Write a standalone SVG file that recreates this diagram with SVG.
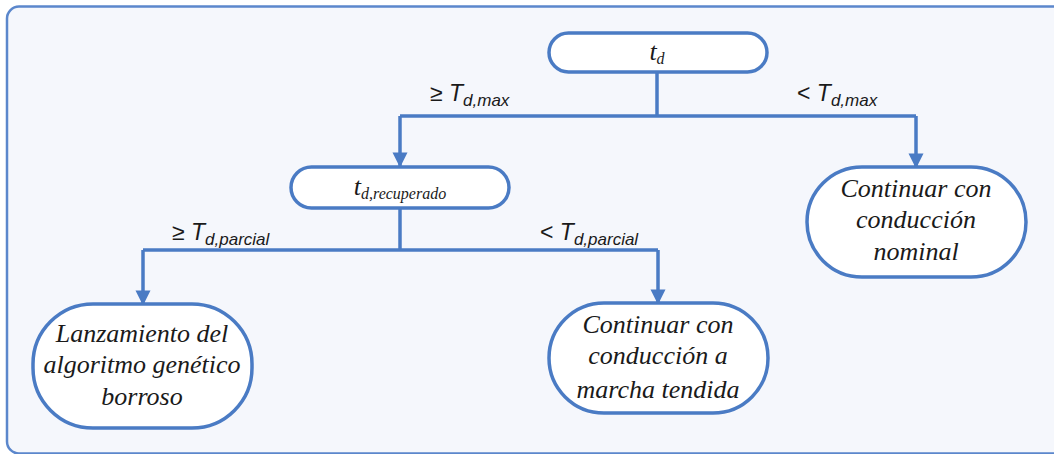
<svg xmlns="http://www.w3.org/2000/svg" width="1054" height="454" viewBox="0 0 1054 454">
<defs>
<style>
.node{fill:#ffffff;stroke:#4a7bc4;stroke-width:3.5}
.conn{fill:none;stroke:#4a7bc4;stroke-width:3.5}
.nt{font-family:"Liberation Serif","Times New Roman",serif;font-style:italic;font-size:26px;fill:#1a1a1a;text-anchor:middle}
.lb{font-family:"Liberation Sans",Arial,sans-serif;font-size:23px;fill:#1a1a1a}
.ti{font-style:italic}
</style>
<marker id="ah" viewBox="0 0 10 10" refX="9" refY="5" markerWidth="4.3" markerHeight="4.3" orient="auto" markerUnits="strokeWidth">
<path d="M0,0 L10,5 L0,10 z" fill="#4a7bc4"/>
</marker>
</defs>
<rect x="7" y="6.5" width="1070" height="447" rx="12" fill="#f5f7fc" stroke="#5b87cc" stroke-width="2.5"/>
<g id="connectors">
<path class="conn" d="M657,72 V116"/>
<path class="conn" d="M400,116 H916"/>
<path class="conn" d="M400,116 V166" marker-end="url(#ah)"/>
<path class="conn" d="M916,116 V167" marker-end="url(#ah)"/>
<path class="conn" d="M400,208 V250"/>
<path class="conn" d="M143,250 H658"/>
<path class="conn" d="M143,250 V304" marker-end="url(#ah)"/>
<path class="conn" d="M658,250 V303" marker-end="url(#ah)"/>
</g>
<g id="labels">
<text class="lb" x="430" y="101">≥ <tspan class="ti">T</tspan><tspan class="ti" font-size="17" dy="5">d,max</tspan></text>
<text class="lb" x="797" y="101">&lt; <tspan class="ti">T</tspan><tspan class="ti" font-size="17" dy="5">d,max</tspan></text>
<text class="lb" x="172" y="240">≥ <tspan class="ti">T</tspan><tspan class="ti" font-size="17" dy="5">d,parcial</tspan></text>
<text class="lb" x="540" y="240">&lt; <tspan class="ti">T</tspan><tspan class="ti" font-size="17" dy="5">d,parcial</tspan></text>
</g>
<g id="n_td">
<rect class="node" x="549" y="33" width="218" height="39" rx="19.5"/>
<text class="nt" x="657" y="60" font-size="24">t<tspan font-size="16" dy="4">d</tspan></text>
</g>
<g id="n_trec">
<rect class="node" x="291" y="167" width="218" height="41" rx="20.5"/>
<text class="nt" x="400" y="195" font-size="24">t<tspan font-size="16" dy="4">d,recuperado</tspan></text>
</g>
<g id="n_nominal">
<rect class="node" x="807" y="167" width="219" height="110" rx="55"/>
<text class="nt" x="916" y="197">Continuar con</text>
<text class="nt" x="916" y="228">conducción</text>
<text class="nt" x="916" y="260">nominal</text>
</g>
<g id="n_lanz">
<rect class="node" x="33" y="304" width="219" height="124" rx="60"/>
<text class="nt" x="142" y="342">Lanzamiento del</text>
<text class="nt" x="142" y="373">algoritmo genético</text>
<text class="nt" x="142" y="405">borroso</text>
</g>
<g id="n_tendida">
<rect class="node" x="549" y="303" width="219" height="110" rx="55"/>
<text class="nt" x="658" y="333">Continuar con</text>
<text class="nt" x="658" y="364">conducción a</text>
<text class="nt" x="658" y="398">marcha tendida</text>
</g>
</svg>
